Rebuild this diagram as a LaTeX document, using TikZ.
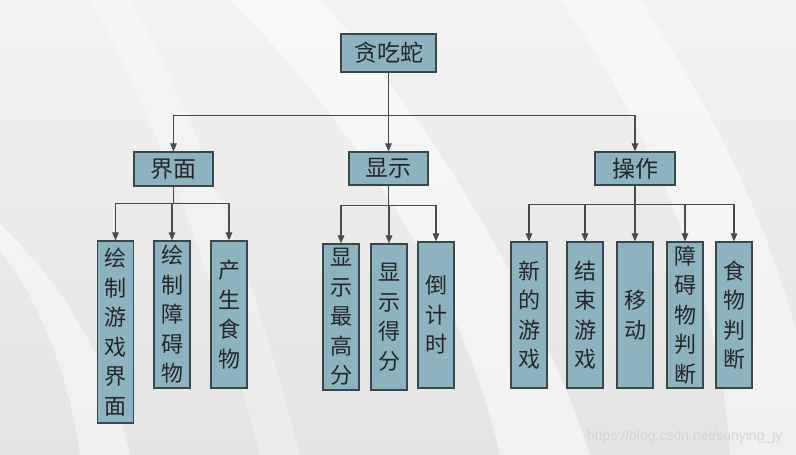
\documentclass[tikz,border=0pt]{standalone}
\usepackage{fontspec}
\setmainfont{Liberation Sans}
\newfontfamily\cjk{Noto Sans CJK SC}
\usetikzlibrary{arrows.meta}
\definecolor{boxfill}{HTML}{8DB3BF}
\definecolor{boxline}{HTML}{3B474B}
\definecolor{linkgray}{HTML}{454B4E}
\definecolor{bgtop}{HTML}{F2F2F2}
\definecolor{bgbottom}{HTML}{E4E4E4}

\begin{document}
\begin{tikzpicture}
		[x=1pt, y=-1pt,
		>={Triangle[length=8pt,width=6.5pt]},
		box/.style={draw=boxline, fill=boxfill, line width=1.2pt, inner sep=0pt, text=black!85, font=\cjk\fontsize{23}{25}\selectfont},
		leaf/.style={box, minimum width=36pt, align=center, font=\cjk\fontsize{22}{29.5}\selectfont},
		link/.style={->, draw=linkgray, line width=1.1pt}]
		% background
		\shade[top color=bgtop, bottom color=bgbottom] (0,0) rectangle (796,455);
		\fill[white, opacity=0.5] (230,0) .. controls (380,150) and (470,320) .. (500,455) -- (590,455) .. controls (540,300) and (430,120) .. (320,0) -- cycle;
		\fill[white, opacity=0.45] (560,0) .. controls (660,140) and (720,300) .. (730,455) -- (796,455) -- (796,330) .. controls (760,200) and (700,90) .. (640,0) -- cycle;
		\fill[white, opacity=0.45] (0,250) .. controls (40,300) and (70,380) .. (80,455) -- (130,455) .. controls (110,360) and (60,280) .. (0,225) -- cycle;
		\fill[white, opacity=0.3] (90,0) .. controls (160,120) and (220,300) .. (260,455) -- (300,455) .. controls (260,300) and (200,120) .. (130,0) -- cycle;
		\useasboundingbox (0,0) rectangle (796,455);

		\node[box, minimum width=95pt, minimum height=38pt] (snake) at (388.5,53) {贪吃蛇};
		\node[box, minimum width=79pt, minimum height=34pt] (ui) at (173.5,169) {界面};
		\node[box, minimum width=79pt, minimum height=33pt] (show) at (388.5,168.5) {显示};
		\node[box, minimum width=80pt, minimum height=33pt] (ctrl) at (635,168.5) {操作};

		\node[leaf, minimum height=182pt] (drawui) at (115.5,332) {绘\\制\\游\\戏\\界\\面};
		\node[leaf, minimum height=147pt] (drawwall) at (172,314.5) {绘\\制\\障\\碍\\物};
		\node[leaf, minimum height=147pt] (makefood) at (229,314.5) {产\\生\\食\\物};

		\node[leaf, minimum height=146pt] (best) at (341,317) {显\\示\\最\\高\\分};
		\node[leaf, minimum height=146pt] (score) at (389,317) {显\\示\\得\\分};
		\node[leaf, minimum height=146pt] (timer) at (436,315) {倒\\计\\时};

		\node[leaf, minimum height=146pt] (newgame) at (529,315) {新\\的\\游\\戏};
		\node[leaf, minimum height=146pt] (endgame) at (585,315) {结\\束\\游\\戏};
		\node[leaf, minimum height=146pt] (move) at (635,315) {移\\动};
		\node[leaf, minimum height=146pt] (wallhit) at (685,315) {障\\碍\\物\\判\\断};
		\node[leaf, minimum height=146pt] (foodhit) at (734,315) {食\\物\\判\\断};

		\node[text=black!17, font=\fontsize{14}{14}\selectfont, anchor=east] (mark) at (786,437) {https://blog.csdn.net/sunying\_jy};

		\draw[link] (snake) -- (show);
		\draw[link] (snake.south) -- ++(0,43) -| (ui.north);
		\draw[link] (snake.south) -- ++(0,43) -| (ctrl.north);

		\draw[link] (ui.south) -- ++(0,17) -| (drawui.north);
		\draw[link] (ui.south) -- ++(0,17) -| (drawwall.north);
		\draw[link] (ui.south) -- ++(0,17) -| (makefood.north);

		\draw[link] (show.south) -- ++(0,20) -| (best.north);
		\draw[link] (show.south) -- ++(0,20) -| (score.north);
		\draw[link] (show.south) -- ++(0,20) -| (timer.north);

		\draw[link] (ctrl.south) -- ++(0,19) -| (newgame.north);
		\draw[link] (ctrl.south) -- ++(0,19) -| (endgame.north);
		\draw[link] (ctrl.south) -- (move.north);
		\draw[link] (ctrl.south) -- ++(0,19) -| (wallhit.north);
		\draw[link] (ctrl.south) -- ++(0,19) -| (foodhit.north);
	\end{tikzpicture}
\end{document}
